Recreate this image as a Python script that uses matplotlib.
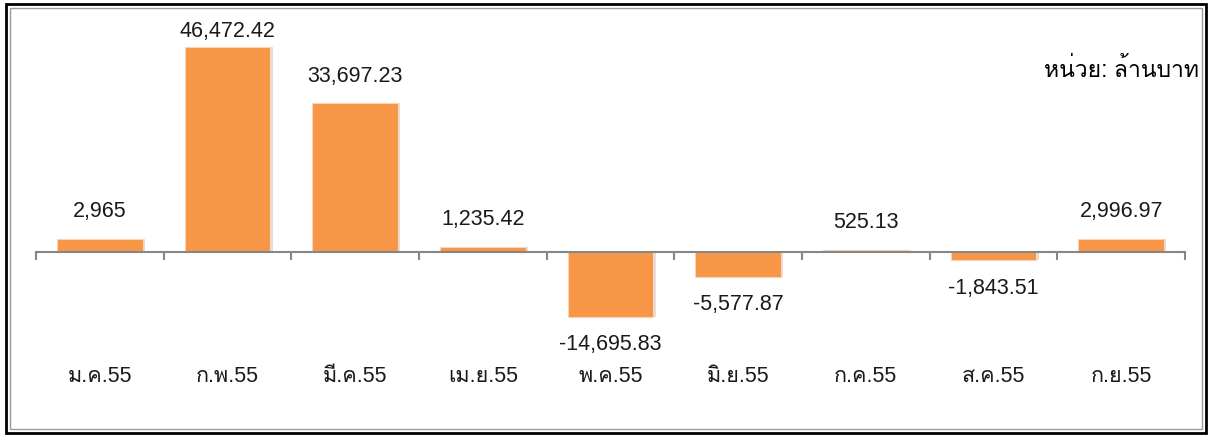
import matplotlib
matplotlib.use("Agg")
import matplotlib.pyplot as plt
import matplotlib.font_manager as fm
from matplotlib.ft2font import FT2Font
from matplotlib.patches import Rectangle

months = ["ม.ค.55", "ก.พ.55", "มี.ค.55", "เม.ย.55", "พ.ค.55",
          "มิ.ย.55", "ก.ค.55", "ส.ค.55", "ก.ย.55"]
values = [2965, 46472.42, 33697.23, 1235.42, -14695.83,
          -5577.87, 525.13, -1843.51, 2996.97]
value_labels = ["2,965", "46,472.42", "33,697.23", "1,235.42", "-14,695.83",
                "-5,577.87", "525.13", "-1,843.51", "2,996.97"]
unit_text = "หน่วย: ล้านบาท"

# look for any installed font that has thai glyphs
thai_fam = None
for f in fm.fontManager.ttflist:
    try:
        if 0x0E01 in FT2Font(f.fname).get_charmap():
            thai_fam = f.name
            break
    except Exception:
        pass

fams = ["Liberation Sans"]
if thai_fam:
    fams.append(thai_fam)
fams.append("DejaVu Sans")
plt.rcParams["font.family"] = fams

W, H = 1212, 438
fig = plt.figure(figsize=(W / 100, H / 100), dpi=100)
ax = fig.add_axes([36 / W, 18 / H, 1149 / W, 400 / H])

x = list(range(len(values)))
# soft shadow under the bars
ax.bar([i + 0.02 for i in x], values, width=0.67, color="#000000", alpha=0.12,
       zorder=1)
ax.bar(x, values, width=0.67, color="#F79646", edgecolor="#FBD3B5",
       linewidth=0.8, zorder=2)

ax.set_xlim(-0.5, len(values) - 0.5)
ax.set_ylim(-38100, 52600)

for i, v in enumerate(values):
    if v >= 0:
        # keep labels of tall bars inside the frame, like excel does
        top_px = H - ax.transData.transform((i, v))[1]
        off = min(27, top_px - 31)
    else:
        off = -28
    ax.annotate(value_labels[i], (i, v), xytext=(0, off), textcoords="offset pixels",
                ha="center", va="center", fontsize=15.5, color="#1a1a1a")

for s in ["top", "right", "left"]:
    ax.spines[s].set_visible(False)
ax.spines["bottom"].set_position(("data", 0))
ax.spines["bottom"].set_color("#868686")
ax.spines["bottom"].set_linewidth(1.5)
ax.set_yticks([])

ax.set_xticks(x)
ax.set_xticklabels(months, fontsize=15.5, color="#1a1a1a")
ax.set_xticks([i - 0.5 for i in range(len(values) + 1)], minor=True)
ax.tick_params(axis="x", which="major", length=0, pad=82)
ax.tick_params(axis="x", which="minor", length=6, width=1.5, color="#868686",
               direction="out")

fig.text(1199 / W, 1 - 70 / H, unit_text, ha="right", va="center",
         fontsize=16.5, color="black")

# double frame around the chart
fig.patches.append(Rectangle((6 / W, 5 / H), 1200 / W, 429 / H,
                             transform=fig.transFigure, fill=False,
                             edgecolor="black", linewidth=2))
fig.patches.append(Rectangle((10 / W, 9 / H), 1192 / W, 421 / H,
                             transform=fig.transFigure, fill=False,
                             edgecolor="#9a9a9a", linewidth=1))

fig.savefig("out.png", dpi=100)
